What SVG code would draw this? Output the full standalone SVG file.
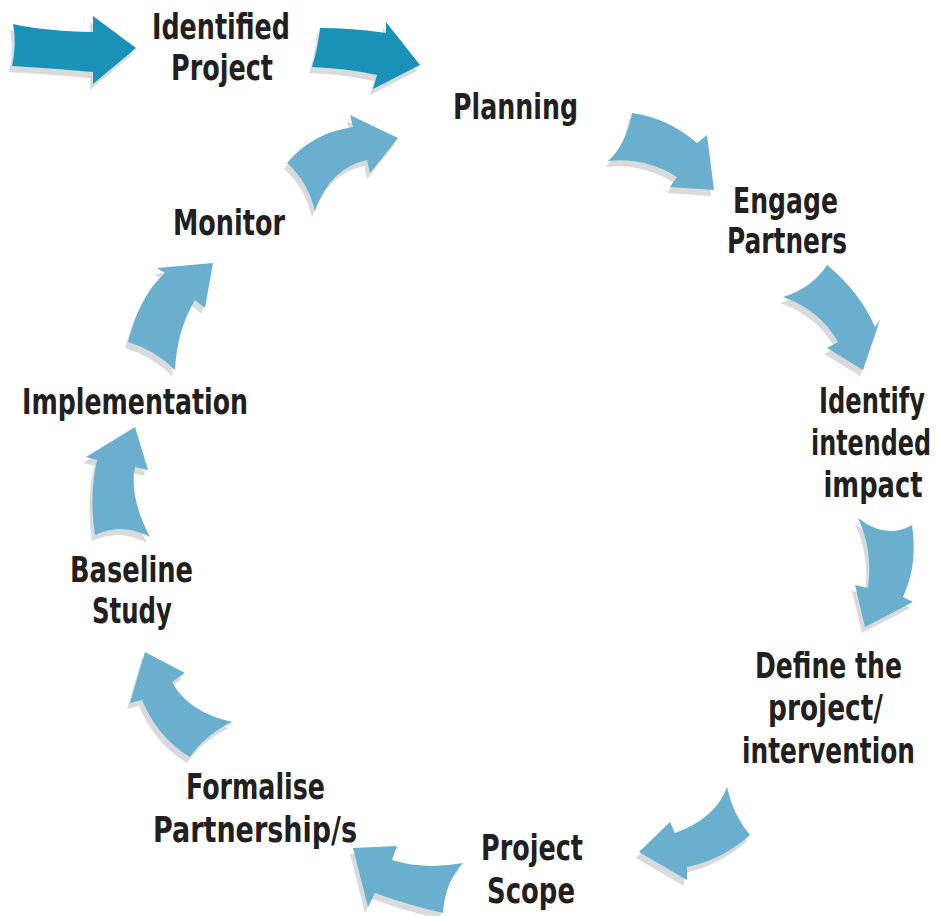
<svg xmlns="http://www.w3.org/2000/svg" xmlns:xlink="http://www.w3.org/1999/xlink" width="939" height="916" viewBox="0 0 939 916">
  <style>
    .lbl { font-family: "Liberation Sans Narrow", "DejaVu Sans Condensed", "Liberation Sans", sans-serif; font-weight: bold; font-size: 35px; fill: #231F20; }
    .mid { text-anchor: middle; }
    .small { font-size: 28px; }
    .dark { fill: #1A91B7; }
    .light { fill: #6AAFCD; }
    .shadow { fill: #D8DADC; }
  </style>
  <defs>
    <!-- block arrows: lead-in pair (straight) and the cycle steps (curved) -->
    <path id="a1" d="M13,24 Q45,31 93,32 L93,16 L136,48 L93,84 L93,72 Q50,68 12,66 Q17,45 13,24 Z"/>
    <path id="a2" d="M320,28 Q352,28 386,33 L386,22 L420,65 L373,89 L377,75 Q345,68 312,67 Q318,48 320,28 Z"/>
    <path id="a3" d="M287,163 Q312,133 353,127 L350,115 L398,138 L370,173 L367,160 Q330,168 315,211 Q307,180 287,163 Z"/>
    <path id="a4" d="M632,113 Q668,118 697,143 L707,135 L714,190 L670,187 L677,177 Q645,157 608,161 Q626,145 632,113 Z"/>
    <path id="a5" d="M827,265 Q860,292 875,327 L880,320 L863,370 L827,348 L838,342 Q820,310 783,297 Q812,288 827,265 Z"/>
    <path id="a6" d="M912,525 Q918,565 903,597 L913,602 L865,627 L855,585 L868,588 Q873,550 858,518 Q886,540 912,525 Z"/>
    <path id="a7" d="M750,835 Q722,860 687,867 L687,880 L639,852 L670,822 L675,833 Q716,818 727,787 Q733,815 750,835 Z"/>
    <path id="a8" d="M443,913 Q408,905 375,893 L368,907 L353,848 L397,846 L392,860 Q425,870 463,863 Q445,882 443,913 Z"/>
    <path id="a9" d="M190,757 Q158,738 142,700 L130,703 L145,652 L185,673 L172,682 Q188,712 232,722 Q205,735 190,757 Z"/>
    <path id="a10" d="M95,535 Q89,497 97,460 L86,457 L135,427 L148,470 L135,467 Q129,497 150,537 Q122,522 95,535 Z"/>
    <path id="a11" d="M128,342 Q140,295 165,273 L157,268 L213,263 L205,308 L195,300 Q177,330 175,370 Q155,350 128,342 Z"/>
  </defs>

  <g id="connectors">
    <g id="arrow-start"><use xlink:href="#a1" class="shadow" transform="translate(-3,6)"/><use xlink:href="#a1" class="dark"/></g>
    <g id="arrow-identified-planning"><use xlink:href="#a2" class="shadow" transform="translate(-3,6)"/><use xlink:href="#a2" class="dark"/></g>
    <g id="arrow-monitor-planning"><use xlink:href="#a3" class="shadow" transform="translate(-3,6)"/><use xlink:href="#a3" class="light"/></g>
    <g id="arrow-planning-engage"><use xlink:href="#a4" class="shadow" transform="translate(-3,6)"/><use xlink:href="#a4" class="light"/></g>
    <g id="arrow-engage-impact"><use xlink:href="#a5" class="shadow" transform="translate(-3,6)"/><use xlink:href="#a5" class="light"/></g>
    <g id="arrow-impact-define"><use xlink:href="#a6" class="shadow" transform="translate(-3,6)"/><use xlink:href="#a6" class="light"/></g>
    <g id="arrow-define-scope"><use xlink:href="#a7" class="shadow" transform="translate(-3,6)"/><use xlink:href="#a7" class="light"/></g>
    <g id="arrow-scope-formalise"><use xlink:href="#a8" class="shadow" transform="translate(-3,6)"/><use xlink:href="#a8" class="light"/></g>
    <g id="arrow-formalise-baseline"><use xlink:href="#a9" class="shadow" transform="translate(-3,6)"/><use xlink:href="#a9" class="light"/></g>
    <g id="arrow-baseline-implementation"><use xlink:href="#a10" class="shadow" transform="translate(-3,6)"/><use xlink:href="#a10" class="light"/></g>
    <g id="arrow-implementation-monitor"><use xlink:href="#a11" class="shadow" transform="translate(-3,6)"/><use xlink:href="#a11" class="light"/></g>
  </g>

  <g id="node-identified-project">
    <text class="lbl" x="152" y="39" textLength="138" lengthAdjust="spacingAndGlyphs">Identified</text>
    <text class="lbl" x="171" y="80" textLength="102" lengthAdjust="spacingAndGlyphs">Project</text>
  </g>
  <g id="node-planning">
    <text class="lbl" x="453" y="119" textLength="125" lengthAdjust="spacingAndGlyphs">Planning</text>
  </g>
  <g id="node-engage-partners">
    <text class="lbl" x="733" y="213" textLength="105" lengthAdjust="spacingAndGlyphs">Engage</text>
    <text class="lbl" x="727" y="253" textLength="120" lengthAdjust="spacingAndGlyphs">Partners</text>
  </g>
  <!-- right-hand blocks: set smaller and stretched upright, so they stay clear of the right edge -->
  <g id="node-identify-impact" transform="scale(1,1.25)">
    <text class="lbl small mid" x="872" y="330.4" textLength="106" lengthAdjust="spacingAndGlyphs">Identify</text>
    <text class="lbl small mid" x="871" y="364" textLength="120" lengthAdjust="spacingAndGlyphs">intended</text>
    <text class="lbl small mid" x="873" y="397.6" textLength="99" lengthAdjust="spacingAndGlyphs">impact</text>
  </g>
  <g id="node-define" transform="scale(1,1.25)">
    <text class="lbl small mid" x="828.5" y="542.4" textLength="147" lengthAdjust="spacingAndGlyphs">Define the</text>
    <text class="lbl small mid" x="825.5" y="576" textLength="115" lengthAdjust="spacingAndGlyphs">project/</text>
    <text class="lbl small mid" x="828.5" y="610.4" textLength="173" lengthAdjust="spacingAndGlyphs">intervention</text>
  </g>
  <g id="node-project-scope">
    <text class="lbl" x="481" y="860" textLength="102" lengthAdjust="spacingAndGlyphs">Project</text>
    <text class="lbl" x="487" y="903" textLength="88" lengthAdjust="spacingAndGlyphs">Scope</text>
  </g>
  <g id="node-formalise">
    <text class="lbl" x="186" y="799" textLength="139" lengthAdjust="spacingAndGlyphs">Formalise</text>
    <text class="lbl" x="153" y="842" textLength="204" lengthAdjust="spacingAndGlyphs">Partnership/s</text>
  </g>
  <g id="node-baseline">
    <text class="lbl" x="70" y="582" textLength="123" lengthAdjust="spacingAndGlyphs">Baseline</text>
    <text class="lbl" x="92" y="623" textLength="80" lengthAdjust="spacingAndGlyphs">Study</text>
  </g>
  <g id="node-implementation">
    <text class="lbl" x="22" y="414" textLength="226" lengthAdjust="spacingAndGlyphs">Implementation</text>
  </g>
  <g id="node-monitor">
    <text class="lbl" x="173" y="235" textLength="112" lengthAdjust="spacingAndGlyphs">Monitor</text>
  </g>
</svg>
